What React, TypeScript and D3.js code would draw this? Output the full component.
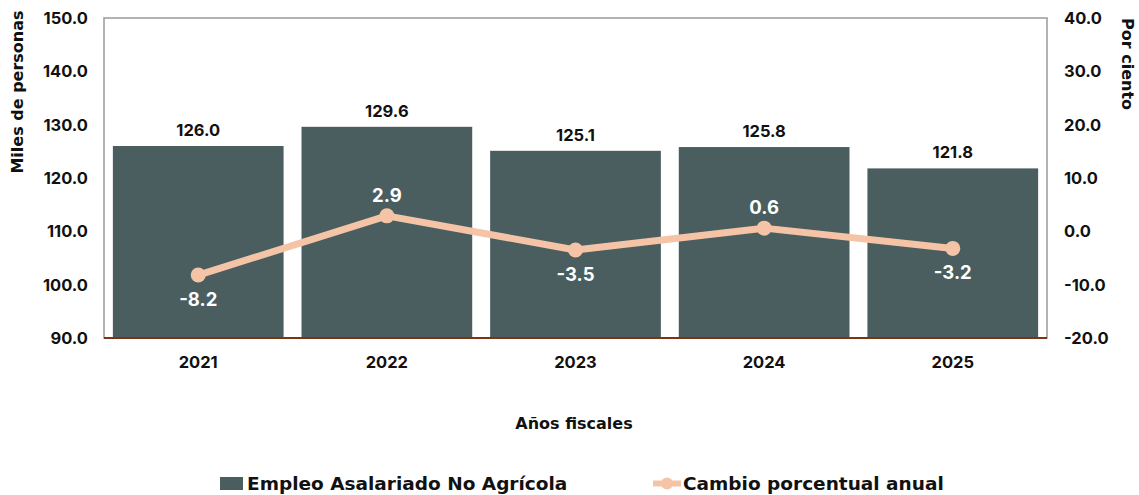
import React from "react";
import * as d3 from "d3";

const years = ["2021", "2022", "2023", "2024", "2025"];
const employment = [126.0, 129.6, 125.1, 125.8, 121.8];
const pctChange = [-8.2, 2.9, -3.5, 0.6, -3.2];
const leftTicks = [90, 100, 110, 120, 130, 140, 150];
const rightTicks = [-20, -10, 0, 10, 20, 30, 40];
const labelAbove = [false, true, false, true, false];

const W = 1139, H = 495;
const M = { left: 104, right: 1047, top: 18, bottom: 338 };
const FONT = "Inter, 'Open Sans', sans-serif";
const WFONT = "'DejaVu Sans', Inter, sans-serif";
const BAR = "#4a5e60";
const LINE = "#f5c4a6";

export default function App() {
  const x = d3.scaleBand().domain(years).range([M.left, M.right]).paddingInner(0.095).paddingOuter(0.047);
  const yL = d3.scaleLinear().domain([90, 150]).range([M.bottom, M.top]);
  const yR = d3.scaleLinear().domain([-20, 40]).range([M.bottom, M.top]);
  const cx = (d: string) => (x(d) as number) + x.bandwidth() / 2;
  const lineGen = d3.line<number>().x((_, i) => cx(years[i])).y((v) => yR(v));

  return (
    <svg width={W} height={H} style={{ position: "absolute", left: 0, top: 0 }} fontFamily={FONT} fontWeight={700}>
      <rect x={0} y={0} width={W} height={H} fill="#fff" />
      <rect x={M.left} y={M.top} width={M.right - M.left} height={M.bottom - M.top} fill="none" stroke="#9a9a9a" strokeWidth={1.5} />
      {years.map((yr, i) => (
        <rect key={yr} x={x(yr)} y={yL(employment[i])} width={x.bandwidth()} height={M.bottom - yL(employment[i])} fill={BAR} />
      ))}
      <line x1={M.left} x2={M.right} y1={M.bottom} y2={M.bottom} stroke="#7b3515" strokeWidth={2} />
      {years.map((yr, i) => (
        <text key={yr} x={cx(yr)} y={yL(employment[i]) - 10} textAnchor="middle" fontSize={16.5} fill="#111">
          {employment[i].toFixed(1)}
        </text>
      ))}
      <path d={lineGen(pctChange) || ""} fill="none" stroke={LINE} strokeWidth={7} strokeLinejoin="round" />
      {pctChange.map((v, i) => (
        <circle key={i} cx={cx(years[i])} cy={yR(v)} r={7.5} fill={LINE} />
      ))}
      {pctChange.map((v, i) => (
        <text key={i} x={cx(years[i])} y={labelAbove[i] ? yR(v) - 14 : yR(v) + 31} textAnchor="middle" fontSize={18.5} fill="#fff">
          {v.toFixed(1)}
        </text>
      ))}
      {leftTicks.map((t) => (
        <text key={t} x={88} y={yL(t) + 6} textAnchor="end" fontSize={16.5} fill="#111">{t.toFixed(1)}</text>
      ))}
      {rightTicks.map((t) => (
        <text key={t} x={1064} y={yR(t) + 6} textAnchor="start" fontSize={16.5} fill="#111">{t.toFixed(1)}</text>
      ))}
      {years.map((yr) => (
        <text key={yr} x={cx(yr)} y={368} textAnchor="middle" fontSize={16.5} fill="#111">{yr}</text>
      ))}
      <text transform={`translate(23,92) rotate(-90)`} textAnchor="middle" fontSize={16} fontFamily={WFONT} fill="#111">Miles de personas</text>
      <text transform={`translate(1122,64) rotate(90)`} textAnchor="middle" fontSize={16} fontFamily={WFONT} fill="#111">Por ciento</text>
      <text x={574} y={429} textAnchor="middle" fontSize={16} fontFamily={WFONT} fill="#111">Años fiscales</text>
      <rect x={220} y={477} width={23} height={13} fill={BAR} />
      <text x={247} y={490} fontSize={18.5} fontFamily={WFONT} fill="#111">Empleo Asalariado No Agrícola</text>
      <line x1={653} x2={681} y1={483.5} y2={483.5} stroke={LINE} strokeWidth={6} />
      <circle cx={667} cy={483.5} r={6} fill={LINE} />
      <text x={683} y={490} fontSize={18.5} fontFamily={WFONT} fill="#111">Cambio porcentual anual</text>
    </svg>
  );
}
